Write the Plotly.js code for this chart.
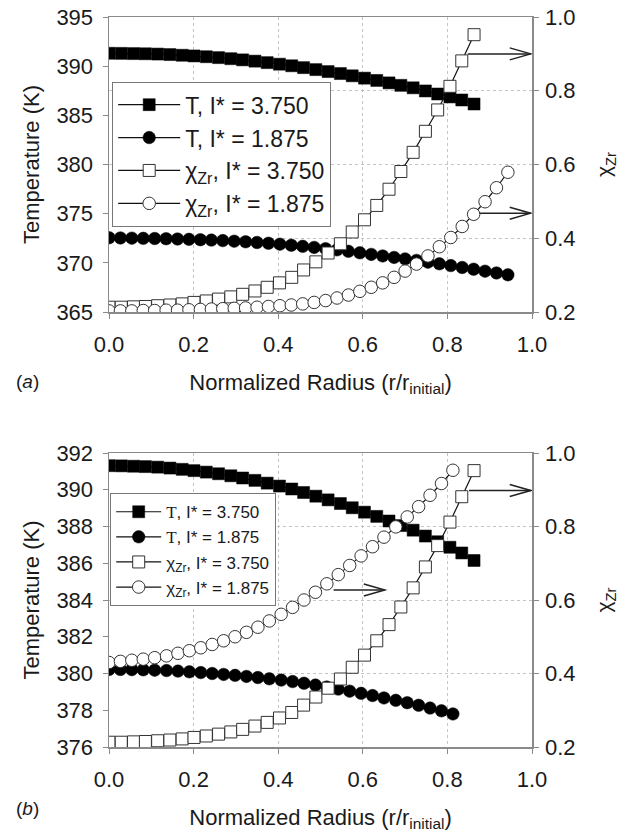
<!DOCTYPE html>
<html>
<head>
<meta charset="utf-8">
<script src="https://cdn.plot.ly/plotly-3.0.1.min.js"></script>
<style>html,body{margin:0;padding:0;background:#fff;}#chart{width:631px;height:833px;}</style>
</head>
<body>
<div id="chart"></div>
<script>
// ---- data ----
// I* = 3.750 (same in both panels)
const x375 = [0, 0.029, 0.058, 0.086, 0.115, 0.144, 0.173, 0.201, 0.230, 0.259, 0.288, 0.316, 0.345, 0.374, 0.403, 0.432, 0.460, 0.489, 0.518, 0.547, 0.575, 0.604, 0.633, 0.662, 0.690, 0.719, 0.748, 0.777, 0.806, 0.834, 0.863];
const T375 = [391.31, 391.30, 391.28, 391.26, 391.23, 391.18, 391.11, 391.04, 390.96, 390.87, 390.76, 390.64, 390.51, 390.36, 390.20, 390.04, 389.85, 389.65, 389.45, 389.25, 389.02, 388.78, 388.55, 388.30, 388.05, 387.80, 387.48, 387.17, 386.87, 386.56, 386.15];
const chi375 = [0.213, 0.213, 0.214, 0.215, 0.217, 0.219, 0.222, 0.226, 0.230, 0.235, 0.241, 0.248, 0.257, 0.267, 0.279, 0.294, 0.314, 0.336, 0.360, 0.385, 0.417, 0.450, 0.489, 0.533, 0.581, 0.633, 0.690, 0.748, 0.812, 0.881, 0.952];

// panel (a), I* = 1.875
const xA188 = [0, 0.027, 0.054, 0.081, 0.108, 0.135, 0.162, 0.189, 0.216, 0.242, 0.269, 0.296, 0.323, 0.350, 0.377, 0.404, 0.431, 0.458, 0.485, 0.512, 0.539, 0.566, 0.593, 0.620, 0.647, 0.674, 0.700, 0.727, 0.754, 0.781, 0.808, 0.835, 0.862, 0.889, 0.916, 0.943];
const TA188 = [372.55, 372.53, 372.51, 372.49, 372.47, 372.45, 372.42, 372.39, 372.35, 372.31, 372.26, 372.20, 372.14, 372.07, 371.99, 371.90, 371.79, 371.68, 371.57, 371.44, 371.32, 371.17, 371.02, 370.86, 370.70, 370.55, 370.40, 370.25, 370.07, 369.90, 369.72, 369.53, 369.35, 369.15, 368.97, 368.78];
const chiA188 = [0.203, 0.203, 0.203, 0.204, 0.204, 0.205, 0.205, 0.206, 0.207, 0.208, 0.209, 0.210, 0.211, 0.213, 0.215, 0.217, 0.219, 0.222, 0.226, 0.231, 0.238, 0.246, 0.256, 0.267, 0.279, 0.294, 0.311, 0.330, 0.352, 0.377, 0.402, 0.432, 0.465, 0.499, 0.537, 0.579];

// panel (b), I* = 1.875
const xB188 = [0, 0.027, 0.054, 0.081, 0.108, 0.136, 0.163, 0.190, 0.217, 0.244, 0.271, 0.298, 0.325, 0.352, 0.379, 0.407, 0.434, 0.461, 0.488, 0.515, 0.542, 0.569, 0.596, 0.623, 0.650, 0.678, 0.705, 0.732, 0.759, 0.786, 0.813];
const TB188 = [380.22, 380.22, 380.21, 380.20, 380.18, 380.16, 380.13, 380.09, 380.05, 380.00, 379.95, 379.90, 379.84, 379.78, 379.71, 379.64, 379.56, 379.47, 379.37, 379.26, 379.15, 379.04, 378.92, 378.80, 378.67, 378.54, 378.41, 378.27, 378.12, 377.97, 377.80];
const chiB188 = [0.430, 0.433, 0.436, 0.439, 0.443, 0.448, 0.455, 0.462, 0.470, 0.479, 0.489, 0.500, 0.512, 0.526, 0.543, 0.561, 0.580, 0.600, 0.621, 0.644, 0.669, 0.694, 0.720, 0.745, 0.771, 0.799, 0.826, 0.854, 0.885, 0.917, 0.953];

// arrows pointing to the right axis: [x start, x end, chi level]
const arrowsA = [[0.848, 0.997, 0.900], [0.876, 0.997, 0.468]];
const arrowsB = [[0.851, 0.997, 0.898], [0.531, 0.652, 0.627]];

const legendNamesA = ['T, I* = 3.750', 'T, I* = 1.875', 'χ<sub>Zr</sub>, I* = 3.750', 'χ<sub>Zr</sub>, I* = 1.875'];
const serifT = '<span style="font-family:Liberation Serif,Times New Roman,serif">T</span>';
const legendNamesB = [serifT + ', I* = 3.750', serifT + ', I* = 1.875', 'χ<sub>Zr</sub>, I* = 3.750', 'χ<sub>Zr</sub>, I* = 1.875'];

// ---- styling ----
const FONT = 'Arial, Liberation Sans, sans-serif';
const INK = '#1a1a1a';
const AXC = '#8a8a8a';
const GRID = '#c4c4c4';

function series(x, y, name, sym, xa, ya, leg, open) {
  return {
    type: 'scatter', mode: 'lines+markers', x: x, y: y, name: name,
    xaxis: xa, yaxis: ya, legend: leg,
    line: {color: '#111', width: 1.2},
    marker: {symbol: sym, size: sym.indexOf('square') === 0 ? 12 : 12.5,
             color: open ? '#ffffff' : '#000000',
             line: {color: open ? '#333' : '#000', width: open ? 1 : 0.5}}
  };
}

const data = [
  series(x375, T375, legendNamesA[0], 'square', 'x', 'y', 'legend', false),
  series(xA188, TA188, legendNamesA[1], 'circle', 'x', 'y', 'legend', false),
  series(x375, chi375, legendNamesA[2], 'square', 'x', 'y2', 'legend', true),
  series(xA188, chiA188, legendNamesA[3], 'circle', 'x', 'y2', 'legend', true),
  series(x375, T375, legendNamesB[0], 'square', 'x2', 'y3', 'legend2', false),
  series(xB188, TB188, legendNamesB[1], 'circle', 'x2', 'y3', 'legend2', false),
  series(x375, chi375, legendNamesB[2], 'square', 'x2', 'y4', 'legend2', true),
  series(xB188, chiB188, legendNamesB[3], 'circle', 'x2', 'y4', 'legend2', true)
];

const W = 631, H = 833;
const xDom = [109/W, 532/W];
const domA = [1 - 312/H, 1 - 17/H];
const domB = [1 - 747/H, 1 - 453/H];

function xAxis(anchor) {
  return {
    domain: xDom, anchor: anchor, range: [0, 1], dtick: 0.2, tick0: 0, tickformat: '.1f',
    showline: true, linecolor: AXC, linewidth: 1.5, mirror: true,
    showgrid: true, gridcolor: GRID, griddash: 'dot', gridwidth: 1,
    ticks: 'outside', ticklen: 5, tickcolor: AXC, zeroline: false, ticklabelstandoff: 7,
    tickfont: {family: FONT, size: 22, color: INK},
    title: {text: 'Normalized Radius (r/r<sub>initial</sub>)', font: {family: FONT, size: 22, color: INK}, standoff: 18}
  };
}
function yLeft(anchor, dom, range, dtick) {
  return {
    domain: dom, anchor: anchor, range: range, dtick: dtick, side: 'left',
    showline: true, linecolor: AXC, linewidth: 1.5, showgrid: false, zeroline: false,
    ticks: 'outside', ticklen: 5, tickcolor: AXC, ticklabelstandoff: 5,
    tickfont: {family: FONT, size: 22, color: INK},
    title: {text: 'Temperature (K)', font: {family: FONT, size: 22, color: INK}, standoff: 10}
  };
}
function yRight(over, anchor) {
  return {
    overlaying: over, anchor: anchor, side: 'right', range: [0.2, 1], dtick: 0.2, tickformat: '.1f',
    showline: true, linecolor: AXC, linewidth: 1.5, zeroline: false,
    showgrid: true, gridcolor: GRID, griddash: 'dot', gridwidth: 1,
    ticks: 'outside', ticklen: 5, tickcolor: AXC, ticklabelstandoff: 2,
    tickfont: {family: FONT, size: 22, color: INK},
    title: {text: 'χ<sub>Zr</sub>', font: {family: FONT, size: 21, color: INK}, standoff: 22}
  };
}

const shapes = [];
function addArrows(list, xref, yref) {
  list.forEach(a => {
    shapes.push({type: 'line', xref: xref, yref: yref, x0: a[0], x1: a[1], y0: a[2], y1: a[2],
                 line: {color: '#222', width: 1.5}});
    shapes.push({type: 'path', xref: xref, yref: yref, xsizemode: 'pixel', ysizemode: 'pixel',
                 xanchor: a[1], yanchor: a[2], path: 'M-21,6 L0,0 L-21,-6',
                 line: {color: '#222', width: 1.5}});
  });
}
addArrows(arrowsA, 'x', 'y2');
addArrows(arrowsB, 'x2', 'y4');

const layout = {
  width: W, height: H, margin: {l: 0, r: 0, t: 0, b: 0},
  paper_bgcolor: '#fff', plot_bgcolor: '#fff',
  font: {family: FONT, color: INK},
  xaxis: xAxis('y'),
  yaxis: yLeft('x', domA, [365, 395], 5),
  yaxis2: yRight('y', 'x'),
  xaxis2: xAxis('y3'),
  yaxis3: yLeft('x2', domB, [376, 392], 2),
  yaxis4: yRight('y3', 'x2'),
  legend: {x: 112/W, y: 1 - 82/H, xanchor: 'left', yanchor: 'top', bgcolor: '#fff',
           bordercolor: '#777', borderwidth: 1.2, itemwidth: 62, tracegroupgap: 0,
           font: {family: FONT, size: 23, color: INK}},
  legend2: {x: 110/W, y: 1 - 493/H, xanchor: 'left', yanchor: 'top', bgcolor: '#fff',
            bordercolor: '#777', borderwidth: 1.2, itemwidth: 45, tracegroupgap: 0,
            font: {family: FONT, size: 17, color: INK}},
  shapes: shapes,
  annotations: [
    {text: '(<i>a</i>)', xref: 'paper', yref: 'paper', x: 14/W, y: 1 - 381/H, xanchor: 'left', yanchor: 'middle',
     showarrow: false, font: {family: FONT, size: 19, color: INK}},
    {text: '(<i>b</i>)', xref: 'paper', yref: 'paper', x: 14/W, y: 1 - 808/H, xanchor: 'left', yanchor: 'middle',
     showarrow: false, font: {family: FONT, size: 19, color: INK}}
  ]
};

Plotly.newPlot('chart', data, layout, {displayModeBar: false, staticPlot: true});
</script>
</body>
</html>
